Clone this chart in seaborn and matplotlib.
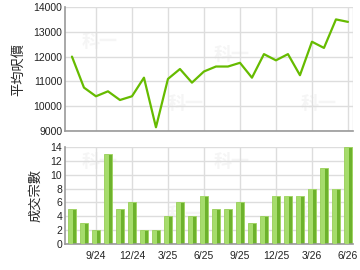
import matplotlib
matplotlib.use("Agg")
import matplotlib.pyplot as plt
import seaborn as sns
import pandas as pd
import numpy as np

sns.set_style("white")
plt.rcParams['font.family'] = ['Liberation Sans', 'Noto Sans CJK TC', 'DejaVu Sans']

# data
price = [12000, 10750, 10400, 10600, 10250, 10400, 11150, 9150, 11100, 11500,
         10950, 11400, 11600, 11600, 11750, 11150, 12100, 11850, 12100, 11250,
         12600, 12350, 13500, 13400]
volume = [5, 3, 2, 13, 5, 6, 2, 2, 4, 6, 4, 7, 5, 5, 6, 3, 4, 7, 7, 7, 8, 11, 8, 14]
tick_pos = [2, 5, 8, 11, 14, 17, 20, 23]
tick_labels = ["9/24", "12/24", "3/25", "6/25", "9/25", "12/25", "3/26", "6/26"]
price_ticks = [9000, 10000, 11000, 12000, 13000, 14000]
volume_ticks = [0, 2, 4, 6, 8, 10, 12, 14]
ylabel_top = "平均呎價"
ylabel_bottom = "成交宗數"

idx = list(range(len(price)))
df = pd.DataFrame({"i": idx, "price": price, "volume": volume})

fig = plt.figure(figsize=(3.6, 2.7), dpi=100)
ax1 = fig.add_axes([65/360, 1-131/270, 288/360, 124/270])
ax2 = fig.add_axes([65/360, 1-244/270, 288/360, 97/270])

grid_c = "#dddddd"
spine_c = "#999999"
xlim = (-0.58, 23.42)

for ax in (ax1, ax2):
    ax.set_facecolor("white")
    for s in ("top", "right"):
        ax.spines[s].set_visible(False)
    for s in ("left", "bottom"):
        ax.spines[s].set_color(spine_c)
        ax.spines[s].set_linewidth(1.2)
    ax.tick_params(axis="both", labelsize=7.5, colors="#222222", length=0, pad=2)

# watermarks
for ax, pos in ((ax1, [(0.12, 0.72), (0.58, 0.62), (0.88, 0.22), (0.42, 0.22)]),
                (ax2, [(0.12, 0.85), (0.58, 0.85), (0.88, 0.3), (0.42, 0.3)])):
    for (px, py) in pos:
        ax.text(px, py, "科一", transform=ax.transAxes, fontsize=13, fontweight="bold",
                color="#f5f5f5", ha="center", va="center", zorder=0,
                family=['Noto Sans CJK TC'])

# top line
sns.lineplot(data=df, x="i", y="price", ax=ax1, color="#66bb00", linewidth=1.6, zorder=3)
ax1.set_xlim(*xlim)
ax1.set_ylim(9000, 14000)
ax1.set_yticks(price_ticks)
ax1.set_xticks(tick_pos)
ax1.set_xticklabels([])
ax1.grid(True, color=grid_c, linewidth=1.0, zorder=0)
ax1.set_axisbelow(True)
ax1.set_xlabel("")
ax1.set_ylabel(ylabel_top, fontsize=9.5, family=['Noto Sans CJK TC'], labelpad=6)
ax1.axvline(xlim[1], color=grid_c, linewidth=1.0, zorder=0)

# bottom bars
sns.barplot(data=df, x="i", y="volume", ax=ax2, color="#6db22c", width=0.72,
            saturation=1, edgecolor="#9ed35e", linewidth=0.6, zorder=2)
sns.barplot(data=df, x="i", y="volume", ax=ax2, color="#a6dc6c", width=0.26,
            saturation=1, linewidth=0, zorder=3)
for p in ax2.patches[len(volume):]:
    p.set_x(p.get_x() - 0.08)
    p.set_height(p.get_height() - 0.12)
ax2.set_xlim(*xlim)
ax2.set_ylim(0, 14)
ax2.set_yticks(volume_ticks)
ax2.set_xticks(tick_pos)
ax2.set_xticklabels(tick_labels)
ax2.tick_params(axis="x", length=3, color=spine_c, pad=2)
ax2.grid(True, color=grid_c, linewidth=1.0, zorder=0)
ax2.set_axisbelow(True)
ax2.set_xlabel("")
ax2.set_ylabel(ylabel_bottom, fontsize=9.5, family=['Noto Sans CJK TC'], labelpad=6)
ax2.axvline(xlim[1], color=grid_c, linewidth=1.0, zorder=0)

fig.savefig("out.png", dpi=100)
